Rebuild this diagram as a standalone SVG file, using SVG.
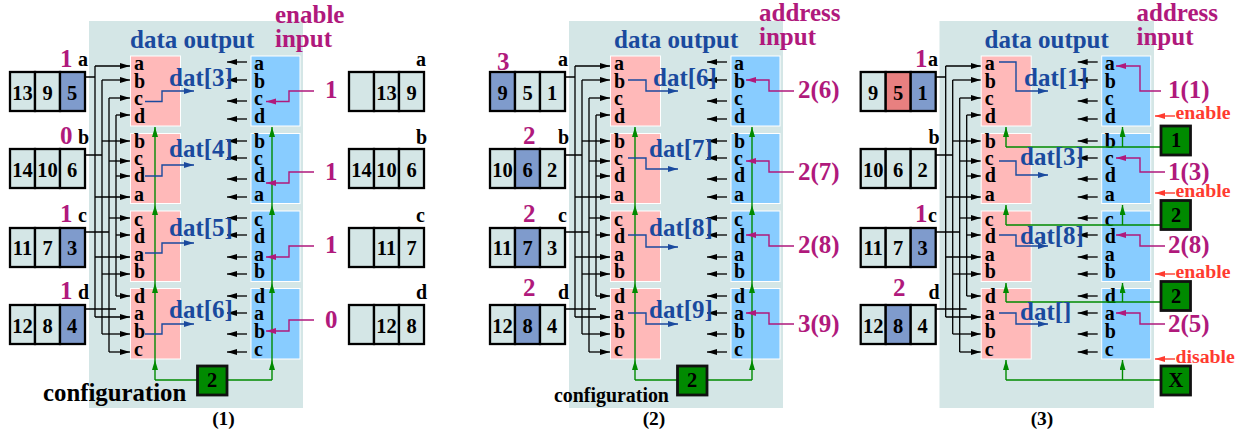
<svg xmlns="http://www.w3.org/2000/svg" width="1246" height="439" viewBox="0 0 1246 439">
<style>
text{font-family:"Liberation Serif","Times New Roman",serif;font-weight:bold}
.bg{fill:#d4e6e6}
.p{fill:#ffb9b9;stroke:#fff;stroke-width:1}
.u{fill:#88ccff;stroke:#fff;stroke-width:1}
.l{font-size:20px;fill:#000}
.n{font-size:20.5px;fill:#000;text-anchor:middle}
.m{font-size:25px;fill:#b0197c}
.k{font-size:25px;fill:#1a4a9e}
.e{font-size:19.800px;fill:#ff3b30}
.c{fill:#d4e6e6;stroke:#000;stroke-width:2.300}
.h{fill:#7f9bcc;stroke:#000;stroke-width:2.300}
.r{fill:#e88080;stroke:#000;stroke-width:2.300}
.g{fill:#008a00;stroke:#111;stroke-width:2.800}
.w{fill:none;stroke:#000;stroke-width:1.300}
.wa{fill:none;stroke:#000;stroke-width:1.300;marker-end:url(#ab)}
.ga{fill:none;stroke:#008a00;stroke-width:1.400;marker-end:url(#ag)}
.gl{fill:none;stroke:#008a00;stroke-width:1.400}
.ma{fill:none;stroke:#b0197c;stroke-width:1.400;marker-end:url(#am)}
.ba{fill:none;stroke:#1a4a9e;stroke-width:1.400;marker-end:url(#ak)}
.ra{fill:none;stroke:#ff3b30;stroke-width:1.400;marker-end:url(#ar)}
</style>
<defs>
<marker id="ab" markerUnits="userSpaceOnUse" markerWidth="11" markerHeight="7" refX="10" refY="3" orient="auto"><path d="M0 0L10 3L0 6z" fill="#000"/></marker>
<marker id="ag" markerUnits="userSpaceOnUse" markerWidth="11" markerHeight="7" refX="10" refY="3" orient="auto"><path d="M0 0L10 3L0 6z" fill="#008a00"/></marker>
<marker id="am" markerUnits="userSpaceOnUse" markerWidth="11" markerHeight="7" refX="10" refY="3" orient="auto"><path d="M0 0L10 3L0 6z" fill="#b0197c"/></marker>
<marker id="ak" markerUnits="userSpaceOnUse" markerWidth="11" markerHeight="7" refX="10" refY="3" orient="auto"><path d="M0 0L10 3L0 6z" fill="#1a4a9e"/></marker>
<marker id="ar" markerUnits="userSpaceOnUse" markerWidth="11" markerHeight="7" refX="10" refY="3" orient="auto"><path d="M0 0L10 3L0 6z" fill="#ff3b30"/></marker>
<g id="wires">
<path class="w" d="M85 77H95M95 66V317M85 155H102M102 80V334M85 232H109M109 98V352M85 309H116M116 115V296"/>
<path class="wa" d="M95 66H130"/><path class="wa" d="M95 197H130"/><path class="wa" d="M95 257H130"/><path class="wa" d="M95 317H130"/>
<path class="wa" d="M102 80H130"/><path class="wa" d="M102 141H130"/><path class="wa" d="M102 274H130"/><path class="wa" d="M102 334H130"/>
<path class="wa" d="M109 98H130"/><path class="wa" d="M109 161H130"/><path class="wa" d="M109 218H130"/><path class="wa" d="M109 352H130"/>
<path class="wa" d="M116 115H130"/><path class="wa" d="M116 176H130"/><path class="wa" d="M116 235H130"/><path class="wa" d="M116 296H130"/>
<path class="wa" d="M247 62H227"/><path class="wa" d="M247 80H227"/><path class="wa" d="M247 101H227"/><path class="wa" d="M247 119H227"/>
<path class="wa" d="M247 141H227"/><path class="wa" d="M247 158H227"/><path class="wa" d="M247 179H227"/><path class="wa" d="M247 197H227"/>
<path class="wa" d="M247 218H227"/><path class="wa" d="M247 235H227"/><path class="wa" d="M247 257H227"/><path class="wa" d="M247 274H227"/>
<path class="wa" d="M247 296H227"/><path class="wa" d="M247 313H227"/><path class="wa" d="M247 334H227"/><path class="wa" d="M247 352H227"/>
</g>
<g id="cfg">
<path class="gl" d="M155 380H197M227 380H272"/>
<path class="ga" d="M155 380V360"/><path class="ga" d="M155 360V283"/><path class="ga" d="M155 283V205"/><path class="ga" d="M155 205V127"/>
<path class="ga" d="M272 380V360"/><path class="ga" d="M272 360V283"/><path class="ga" d="M272 283V205"/><path class="ga" d="M272 205V127"/>
</g>
</defs>

<!-- panel backgrounds -->
<rect class="bg" x="89" y="21" width="214" height="387"/>
<rect class="bg" x="569" y="21" width="214" height="387"/>
<rect class="bg" x="939.500" y="21" width="214.500" height="387"/>

<!-- panel 1 -->
<g id="panel1">
<g id="p1-pink1"><rect class="p" x="130.500" y="56" width="50" height="70"/><text class="l" x="134" y="70">a</text><text class="l" x="134" y="88">b</text><text class="l" x="134" y="105">c</text><text class="l" x="134" y="123">d</text></g>
<g id="p1-pink2"><rect class="p" x="130.500" y="133.500" width="50" height="70"/><text class="l" x="134" y="148">b</text><text class="l" x="134" y="165">c</text><text class="l" x="134" y="182">d</text><text class="l" x="134" y="201">a</text></g>
<g id="p1-pink3"><rect class="p" x="130.500" y="211" width="50" height="70.500"/><text class="l" x="134" y="226">c</text><text class="l" x="134" y="243">d</text><text class="l" x="134" y="261">a</text><text class="l" x="134" y="278">b</text></g>
<g id="p1-pink4"><rect class="p" x="130.500" y="288.500" width="50" height="70.500"/><text class="l" x="134" y="303">d</text><text class="l" x="134" y="320">a</text><text class="l" x="134" y="338">b</text><text class="l" x="134" y="356">c</text></g>
<g id="p1-blue1"><rect class="u" x="251" y="56" width="49" height="70"/><text class="l" x="254" y="70">a</text><text class="l" x="254" y="88">b</text><text class="l" x="254" y="105">c</text><text class="l" x="254" y="123">d</text></g>
<g id="p1-blue2"><rect class="u" x="251" y="133.500" width="49" height="70"/><text class="l" x="254" y="148">b</text><text class="l" x="254" y="165">c</text><text class="l" x="254" y="182">d</text><text class="l" x="254" y="201">a</text></g>
<g id="p1-blue3"><rect class="u" x="251" y="211" width="49" height="70.500"/><text class="l" x="254" y="226">c</text><text class="l" x="254" y="243">d</text><text class="l" x="254" y="261">a</text><text class="l" x="254" y="278">b</text></g>
<g id="p1-blue4"><rect class="u" x="251" y="288.500" width="49" height="70.500"/><text class="l" x="254" y="303">d</text><text class="l" x="254" y="320">a</text><text class="l" x="254" y="338">b</text><text class="l" x="254" y="356">c</text></g>
<g id="p1-rega"><rect class="c" x="10" y="72" width="25" height="39"/><rect class="c" x="35" y="72" width="25" height="39"/><rect class="h" x="60" y="72" width="25" height="39"/><text class="n" x="22.500" y="100">13</text><text class="n" x="47.500" y="100">9</text><text class="n" x="72" y="100">5</text></g>
<g id="p1-regb"><rect class="c" x="10" y="149" width="25" height="39"/><rect class="c" x="35" y="149" width="25" height="39"/><rect class="c" x="60" y="149" width="25" height="39"/><text class="n" x="22.500" y="177">14</text><text class="n" x="47.500" y="177">10</text><text class="n" x="72" y="177">6</text></g>
<g id="p1-regc"><rect class="c" x="10" y="228" width="25" height="39"/><rect class="c" x="35" y="228" width="25" height="39"/><rect class="h" x="60" y="228" width="25" height="39"/><text class="n" x="22.500" y="255">11</text><text class="n" x="47.500" y="255">7</text><text class="n" x="72" y="255">3</text></g>
<g id="p1-regd"><rect class="c" x="10" y="305" width="25" height="39"/><rect class="c" x="35" y="305" width="25" height="39"/><rect class="h" x="60" y="305" width="25" height="39"/><text class="n" x="22.500" y="333">12</text><text class="n" x="47.500" y="333">8</text><text class="n" x="72" y="333">4</text></g>
<g id="p1-outa"><rect class="c" x="349" y="72" width="25" height="39"/><rect class="c" x="374" y="72" width="25" height="39"/><rect class="c" x="399" y="72" width="25" height="39"/><text class="n" x="386.500" y="100">13</text><text class="n" x="411.500" y="100">9</text></g>
<g id="p1-outb"><rect class="c" x="349" y="149" width="25" height="39"/><rect class="c" x="374" y="149" width="25" height="39"/><rect class="c" x="399" y="149" width="25" height="39"/><text class="n" x="361.500" y="177">14</text><text class="n" x="386.500" y="177">10</text><text class="n" x="411.500" y="177">6</text></g>
<g id="p1-outc"><rect class="c" x="349" y="228" width="25" height="39"/><rect class="c" x="374" y="228" width="25" height="39"/><rect class="c" x="399" y="228" width="25" height="39"/><text class="n" x="386.500" y="255">11</text><text class="n" x="411.500" y="255">7</text></g>
<g id="p1-outd"><rect class="c" x="349" y="305" width="25" height="39"/><rect class="c" x="374" y="305" width="25" height="39"/><rect class="c" x="399" y="305" width="25" height="39"/><text class="n" x="386.500" y="333">12</text><text class="n" x="411.500" y="333">8</text></g>
</g>

<!-- panel 2 -->
<g id="panel2">
<g id="p2-pink1"><rect class="p" x="610.500" y="56" width="50" height="70"/><text class="l" x="614" y="70">a</text><text class="l" x="614" y="88">b</text><text class="l" x="614" y="105">c</text><text class="l" x="614" y="123">d</text></g>
<g id="p2-pink2"><rect class="p" x="610.500" y="133.500" width="50" height="70"/><text class="l" x="614" y="148">b</text><text class="l" x="614" y="165">c</text><text class="l" x="614" y="182">d</text><text class="l" x="614" y="201">a</text></g>
<g id="p2-pink3"><rect class="p" x="610.500" y="211" width="50" height="70.500"/><text class="l" x="614" y="226">c</text><text class="l" x="614" y="243">d</text><text class="l" x="614" y="261">a</text><text class="l" x="614" y="278">b</text></g>
<g id="p2-pink4"><rect class="p" x="610.500" y="288.500" width="50" height="70.500"/><text class="l" x="614" y="303">d</text><text class="l" x="614" y="320">a</text><text class="l" x="614" y="338">b</text><text class="l" x="614" y="356">c</text></g>
<g id="p2-blue1"><rect class="u" x="731" y="56" width="49" height="70"/><text class="l" x="734" y="70">a</text><text class="l" x="734" y="88">b</text><text class="l" x="734" y="105">c</text><text class="l" x="734" y="123">d</text></g>
<g id="p2-blue2"><rect class="u" x="731" y="133.500" width="49" height="70"/><text class="l" x="734" y="148">b</text><text class="l" x="734" y="165">c</text><text class="l" x="734" y="182">d</text><text class="l" x="734" y="201">a</text></g>
<g id="p2-blue3"><rect class="u" x="731" y="211" width="49" height="70.500"/><text class="l" x="734" y="226">c</text><text class="l" x="734" y="243">d</text><text class="l" x="734" y="261">a</text><text class="l" x="734" y="278">b</text></g>
<g id="p2-blue4"><rect class="u" x="731" y="288.500" width="49" height="70.500"/><text class="l" x="734" y="303">d</text><text class="l" x="734" y="320">a</text><text class="l" x="734" y="338">b</text><text class="l" x="734" y="356">c</text></g>
<g id="p2-rega"><rect class="h" x="490" y="72" width="25" height="39"/><rect class="c" x="515" y="72" width="25" height="39"/><rect class="c" x="540" y="72" width="25" height="39"/><text class="n" x="502.500" y="100">9</text><text class="n" x="527.500" y="100">5</text><text class="n" x="552" y="100">1</text></g>
<g id="p2-regb"><rect class="c" x="490" y="149" width="25" height="39"/><rect class="h" x="515" y="149" width="25" height="39"/><rect class="c" x="540" y="149" width="25" height="39"/><text class="n" x="502.500" y="177">10</text><text class="n" x="527.500" y="177">6</text><text class="n" x="552" y="177">2</text></g>
<g id="p2-regc"><rect class="c" x="490" y="228" width="25" height="39"/><rect class="h" x="515" y="228" width="25" height="39"/><rect class="c" x="540" y="228" width="25" height="39"/><text class="n" x="502.500" y="255">11</text><text class="n" x="527.500" y="255">7</text><text class="n" x="552" y="255">3</text></g>
<g id="p2-regd"><rect class="c" x="490" y="305" width="25" height="39"/><rect class="h" x="515" y="305" width="25" height="39"/><rect class="c" x="540" y="305" width="25" height="39"/><text class="n" x="502.500" y="333">12</text><text class="n" x="527.500" y="333">8</text><text class="n" x="552" y="333">4</text></g>
</g>

<!-- panel 3 -->
<g id="panel3">
<g id="p3-pink1"><rect class="p" x="981.200" y="56" width="50" height="70"/><text class="l" x="984.700" y="70">a</text><text class="l" x="984.700" y="88">b</text><text class="l" x="984.700" y="105">c</text><text class="l" x="984.700" y="123">d</text></g>
<g id="p3-pink2"><rect class="p" x="981.200" y="133.500" width="50" height="70"/><text class="l" x="984.700" y="148">b</text><text class="l" x="984.700" y="165">c</text><text class="l" x="984.700" y="182">d</text><text class="l" x="984.700" y="201">a</text></g>
<g id="p3-pink3"><rect class="p" x="981.200" y="211" width="50" height="70.500"/><text class="l" x="984.700" y="226">c</text><text class="l" x="984.700" y="243">d</text><text class="l" x="984.700" y="261">a</text><text class="l" x="984.700" y="278">b</text></g>
<g id="p3-pink4"><rect class="p" x="981.200" y="288.500" width="50" height="70.500"/><text class="l" x="984.700" y="303">d</text><text class="l" x="984.700" y="320">a</text><text class="l" x="984.700" y="338">b</text><text class="l" x="984.700" y="356">c</text></g>
<g id="p3-blue1"><rect class="u" x="1101.700" y="56" width="49" height="70"/><text class="l" x="1104.700" y="70">a</text><text class="l" x="1104.700" y="88">b</text><text class="l" x="1104.700" y="105">c</text><text class="l" x="1104.700" y="123">d</text></g>
<g id="p3-blue2"><rect class="u" x="1101.700" y="133.500" width="49" height="70"/><text class="l" x="1104.700" y="148">b</text><text class="l" x="1104.700" y="165">c</text><text class="l" x="1104.700" y="182">d</text><text class="l" x="1104.700" y="201">a</text></g>
<g id="p3-blue3"><rect class="u" x="1101.700" y="211" width="49" height="70.500"/><text class="l" x="1104.700" y="226">c</text><text class="l" x="1104.700" y="243">d</text><text class="l" x="1104.700" y="261">a</text><text class="l" x="1104.700" y="278">b</text></g>
<g id="p3-blue4"><rect class="u" x="1101.700" y="288.500" width="49" height="70.500"/><text class="l" x="1104.700" y="303">d</text><text class="l" x="1104.700" y="320">a</text><text class="l" x="1104.700" y="338">b</text><text class="l" x="1104.700" y="356">c</text></g>
<g id="p3-rega"><rect class="c" x="860.700" y="72" width="25" height="39"/><rect class="r" x="885.700" y="72" width="25" height="39"/><rect class="h" x="910.700" y="72" width="25" height="39"/><text class="n" x="873.200" y="100">9</text><text class="n" x="898.200" y="100">5</text><text class="n" x="922.700" y="100">1</text></g>
<g id="p3-regb"><rect class="c" x="860.700" y="149" width="25" height="39"/><rect class="c" x="885.700" y="149" width="25" height="39"/><rect class="c" x="910.700" y="149" width="25" height="39"/><text class="n" x="873.200" y="177">10</text><text class="n" x="898.200" y="177">6</text><text class="n" x="922.700" y="177">2</text></g>
<g id="p3-regc"><rect class="c" x="860.700" y="228" width="25" height="39"/><rect class="c" x="885.700" y="228" width="25" height="39"/><rect class="h" x="910.700" y="228" width="25" height="39"/><text class="n" x="873.200" y="255">11</text><text class="n" x="898.200" y="255">7</text><text class="n" x="922.700" y="255">3</text></g>
<g id="p3-regd"><rect class="c" x="860.700" y="305" width="25" height="39"/><rect class="h" x="885.700" y="305" width="25" height="39"/><rect class="c" x="910.700" y="305" width="25" height="39"/><text class="n" x="873.200" y="333">12</text><text class="n" x="898.200" y="333">8</text><text class="n" x="922.700" y="333">4</text></g>
</g>

<!-- connectors -->
<g id="connectors">
<use href="#wires"/>
<use href="#wires" x="480"/>
<use href="#wires" x="850.700"/>
<use href="#cfg"/>
<use href="#cfg" x="480"/>
<path class="gl" d="M1006 147H1160M1006 225H1160M1006 302H1160M1006 380H1160"/>
<path class="ga" d="M1006 147V127"/><path class="ga" d="M1122.500 147V127"/>
<path class="ga" d="M1006 225V205"/><path class="ga" d="M1122.500 225V205"/>
<path class="ga" d="M1006 302V283"/><path class="ga" d="M1122.500 302V283"/>
<path class="ga" d="M1006 380V360"/><path class="ga" d="M1122.500 380V360"/>
<path class="ma" d="M314 91H289V101.500H266"/><path class="ma" d="M314 172H289V183H266"/><path class="ma" d="M314 246H289V257H266"/><path class="ma" d="M314 320H289V331H266"/>
<path class="ma" d="M794 91H769V80H746"/><path class="ma" d="M794 172H769V161H746"/><path class="ma" d="M794 246H769V235H746"/><path class="ma" d="M794 324H769V313H746"/>
<path class="ma" d="M1161 91H1140V66H1116"/><path class="ma" d="M1165 172H1140V158H1116"/><path class="ma" d="M1165 246H1140V235H1116"/><path class="ma" d="M1165 324H1140V313H1116"/>
<path class="ba" d="M145 101.500H162V91H194"/><path class="ba" d="M145 176H162V165H194"/><path class="ba" d="M145 253H162V243H194"/><path class="ba" d="M145 334H162V324H194"/>
<path class="ba" d="M628 80H646V91H678"/><path class="ba" d="M628 158H646V169H678"/><path class="ba" d="M628 235H646V247H678"/><path class="ba" d="M628 313H646V324H678"/>
<path class="ba" d="M999 62H1016V91H1048"/><path class="ba" d="M999 161H1016V175H1048"/><path class="ba" d="M999 235H1016V246H1048"/><path class="ba" d="M999 313H1016V324H1048"/>
<path class="ra" d="M1175 116H1155"/><path class="ra" d="M1175 193H1155"/><path class="ra" d="M1175 274H1155"/><path class="ra" d="M1175 359H1155"/>
</g>

<!-- configuration nodes -->
<g id="cfg1"><rect class="g" x="197.500" y="366" width="29.500" height="29"/><text class="n" x="212" y="387">2</text></g>
<g id="cfg2"><rect class="g" x="677.500" y="366" width="29.500" height="29"/><text class="n" x="692" y="387">2</text></g>
<g id="cfg3a"><rect class="g" x="1161" y="126" width="29.500" height="29"/><text class="n" x="1176" y="147">1</text></g>
<g id="cfg3b"><rect class="g" x="1161" y="200.500" width="29.500" height="29"/><text class="n" x="1176" y="222">2</text></g>
<g id="cfg3c"><rect class="g" x="1161" y="281.500" width="29.500" height="29"/><text class="n" x="1176" y="303">2</text></g>
<g id="cfg3d"><rect class="g" x="1161" y="366" width="29.500" height="29"/><text class="n" x="1176" y="387">X</text></g>

<!-- labels -->
<g id="labels">
<text class="k" x="130" y="48">data output</text>
<text class="m" x="275" y="23">enable</text><text class="m" x="275" y="47">input</text>
<text class="m" x="60" y="67">1</text><text class="l" x="78" y="66">a</text>
<text class="m" x="60" y="144">0</text><text class="l" x="78" y="144">b</text>
<text class="m" x="60" y="222">1</text><text class="l" x="78" y="222">c</text>
<text class="m" x="60" y="299">1</text><text class="l" x="78" y="299">d</text>
<text class="l" x="416" y="66">a</text><text class="l" x="416" y="144">b</text><text class="l" x="416" y="222">c</text><text class="l" x="416" y="299">d</text>
<text class="k" x="169" y="86">dat[3]</text><text class="k" x="169" y="157">dat[4]</text><text class="k" x="169" y="236">dat[5]</text><text class="k" x="169" y="318">dat[6]</text>
<text class="m" x="325" y="98">1</text><text class="m" x="325" y="180">1</text><text class="m" x="325" y="253">1</text><text class="m" x="325" y="328">0</text>
<text x="43" y="401" style="font-size:24.800px;fill:#000">configuration</text>
<text class="n" x="223.500" y="425" style="font-size:19.500px">(1)</text>

<text class="k" x="614" y="48">data output</text>
<text class="m" x="759" y="21">address</text><text class="m" x="759" y="45">input</text>
<text class="m" x="497" y="70">3</text><text class="l" x="558" y="66">a</text>
<text class="m" x="523" y="144">2</text><text class="l" x="558" y="144">b</text>
<text class="m" x="523" y="222">2</text><text class="l" x="558" y="222">c</text>
<text class="m" x="523" y="296">2</text><text class="l" x="558" y="299">d</text>
<text class="k" x="653" y="86">dat[6]</text><text class="k" x="649" y="157">dat[7]</text><text class="k" x="649" y="236">dat[8]</text><text class="k" x="649" y="318">dat[9]</text>
<text class="m" x="798" y="98">2(6)</text><text class="m" x="798" y="180">2(7)</text><text class="m" x="798" y="253">2(8)</text><text class="m" x="798" y="332">3(9)</text>
<text x="554" y="402" style="font-size:19.900px;fill:#000">configuration</text>
<text class="n" x="654" y="425" style="font-size:19.500px">(2)</text>

<text class="k" x="984.500" y="48">data output</text>
<text class="m" x="1136.500" y="21">address</text><text class="m" x="1136.500" y="45">input</text>
<text class="m" x="915" y="67">1</text><text class="l" x="928" y="66">a</text>
<text class="l" x="928.500" y="144">b</text>
<text class="m" x="915" y="222">1</text><text class="l" x="928" y="222">c</text>
<text class="m" x="893" y="296">2</text><text class="l" x="928.500" y="299">d</text>
<text class="k" x="1024" y="86">dat[1]</text><text class="k" x="1020" y="165">dat[3]</text><text class="k" x="1020" y="244">dat[8]</text><text class="k" x="1020" y="320">dat[]</text>
<text class="m" x="1168" y="98">1(1)</text><text class="m" x="1168" y="180">1(3)</text><text class="m" x="1168" y="253">2(8)</text><text class="m" x="1168" y="332">2(5)</text>
<text class="e" x="1175.500" y="119">enable</text><text class="e" x="1175.500" y="197">enable</text><text class="e" x="1175.500" y="278">enable</text><text class="e" x="1175.500" y="363">disable</text>
<text class="n" x="1042" y="425" style="font-size:19.500px">(3)</text>
</g>
</svg>
